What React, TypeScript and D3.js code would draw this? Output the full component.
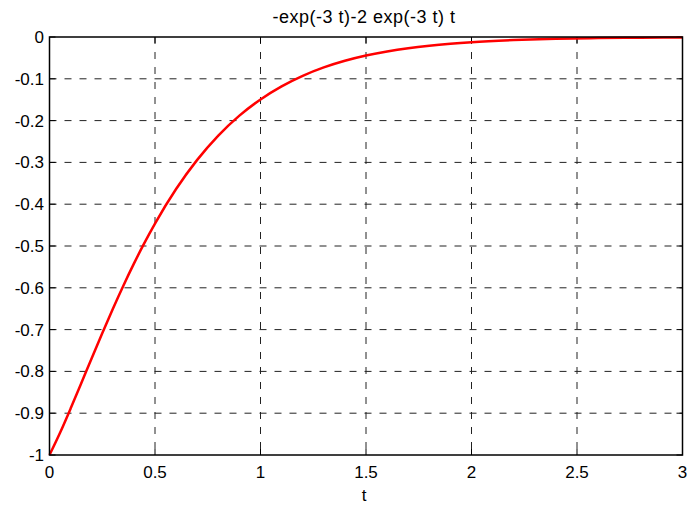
import React from "react";
import * as d3 from "d3";

const tValues = [0, 0.05, 0.1, 0.15, 0.2, 0.25, 0.3, 0.35, 0.4, 0.45, 0.5, 0.6, 0.7, 0.8, 0.9, 1.0, 1.1, 1.2, 1.3, 1.4, 1.5, 1.6, 1.7, 1.8, 1.9, 2.0, 2.2, 2.4, 2.6, 2.8, 3.0];
const yValues = [-1, -0.9468, -0.889, -0.8289, -0.7683, -0.7085, -0.6505, -0.5949, -0.5422, -0.4925, -0.4463, -0.3637, -0.294, -0.2359, -0.1882, -0.1494, -0.1181, -0.0929, -0.0728, -0.057, -0.0444, -0.0346, -0.0268, -0.0208, -0.0161, -0.0124, -0.0074, -0.0043, -0.0025, -0.0015, -0.0009];
const xTicks = [0, 0.5, 1, 1.5, 2, 2.5, 3];
const xTickLabels = ["0", "0.5", "1", "1.5", "2", "2.5", "3"];
const yTicks = [0, -0.1, -0.2, -0.3, -0.4, -0.5, -0.6, -0.7, -0.8, -0.9, -1];
const yTickLabels = ["0", "-0.1", "-0.2", "-0.3", "-0.4", "-0.5", "-0.6", "-0.7", "-0.8", "-0.9", "-1"];
const title = "-exp(-3 t)-2 exp(-3 t) t";
const xLabel = "t";

export default function App() {
  const W = 688, H = 505;
  const left = 49.5, right = 682.5, top = 37, bottom = 455;
  const x = d3.scaleLinear().domain([0, 3]).range([left, right]);
  const y = d3.scaleLinear().domain([-1, 0]).range([bottom, top]);
  const line = d3.line<number>().x((_, i) => x(tValues[i])).y((d) => y(d)).curve(d3.curveMonotoneX);
  const font = "'Liberation Sans', Arial, sans-serif";
  return (
    <svg width={W} height={H} style={{ position: "absolute", left: 0, top: 0, background: "#fff" }}>
      <rect x={0} y={0} width={W} height={H} fill="#fff" />
      {xTicks.slice(1, -1).map((t) => (
        <line key={"gx" + t} x1={x(t)} x2={x(t)} y1={top} y2={bottom} stroke="#222" strokeWidth={1} strokeDasharray="7,8" />
      ))}
      {yTicks.slice(1, -1).map((t) => (
        <line key={"gy" + t} x1={left} x2={right} y1={y(t)} y2={y(t)} stroke="#222" strokeWidth={1} strokeDasharray="7,8" />
      ))}
      {xTicks.map((t) => (
        <g key={"tx" + t}>
          <line x1={x(t)} x2={x(t)} y1={bottom} y2={bottom - 6} stroke="#000" />
          <line x1={x(t)} x2={x(t)} y1={top} y2={top + 6} stroke="#000" />
        </g>
      ))}
      {yTicks.map((t) => (
        <g key={"ty" + t}>
          <line x1={left} x2={left + 6} y1={y(t)} y2={y(t)} stroke="#000" />
          <line x1={right} x2={right - 6} y1={y(t)} y2={y(t)} stroke="#000" />
        </g>
      ))}
      <path d={line(yValues) || ""} fill="none" stroke="#ff0000" strokeWidth={2.5} />
      <rect x={left} y={top} width={right - left} height={bottom - top} fill="none" stroke="#000" strokeWidth={1.5} />
      {xTicks.map((t, i) => (
        <text key={"lx" + t} x={x(t)} y={478} textAnchor="middle" fontFamily={font} fontSize={17} fill="#000">
          {xTickLabels[i]}
        </text>
      ))}
      {yTicks.map((t, i) => (
        <text key={"ly" + t} x={44} y={y(t) + 6} textAnchor="end" fontFamily={font} fontSize={17} fill="#000">
          {yTickLabels[i]}
        </text>
      ))}
      <text x={364} y={23} textAnchor="middle" fontFamily={font} fontSize={18} letterSpacing={0.5} fill="#000">
        {title}
      </text>
      <text x={364} y={501} textAnchor="middle" fontFamily={font} fontSize={17} fill="#000">
        {xLabel}
      </text>
    </svg>
  );
}
